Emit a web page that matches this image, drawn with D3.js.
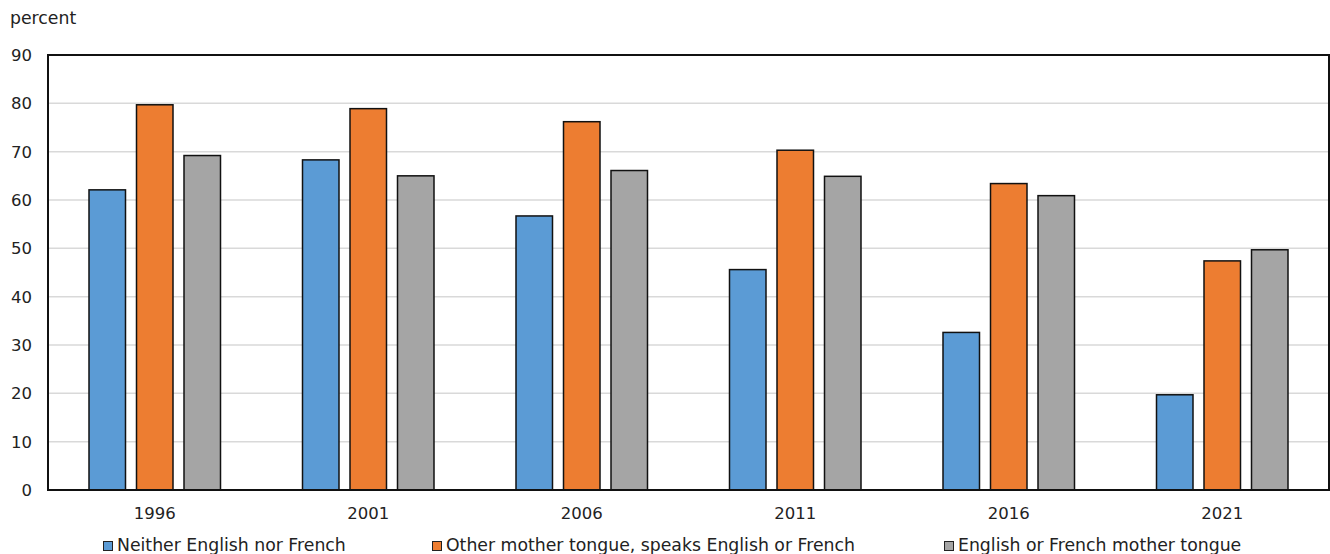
<!DOCTYPE html>
<html>
<head>
<meta charset="utf-8">
<script src="https://cdn.jsdelivr.net/npm/d3@7"></script>
<style>
  html, body { margin: 0; padding: 0; background: #fff; }
  svg text { font-family: "DejaVu Sans", Verdana, sans-serif; fill: #222; }
</style>
</head>
<body>
<svg id="chart" width="1330" height="554"></svg>
<script>
// Census years on the category axis
const years = ["1996", "2001", "2006", "2011", "2016", "2021"];

// Series names (legend order)
const seriesNames = [
  "Neither English nor French",
  "Other mother tongue, speaks English or French",
  "English or French mother tongue"
];

// Percent values per series, one per year
const neitherValues = [62.1, 68.3, 56.7, 45.6, 32.6, 19.7];
const otherValues   = [79.7, 78.9, 76.2, 70.3, 63.4, 47.4];
const officialValues = [69.2, 65.0, 66.1, 64.9, 60.9, 49.7];

// Y-axis ticks
const yTicks = [0, 10, 20, 30, 40, 50, 60, 70, 80, 90];

const seriesColors = ["#5B9BD5", "#ED7D31", "#A5A5A5"];
const seriesValues = [neitherValues, otherValues, officialValues];

const margin = { left: 48, right: 1329, top: 55, bottom: 490 };
const svg = d3.select("#chart");
const tickFont = 16.5;
const textFont = 17.3;

const x0 = d3.scaleBand().domain(years).range([margin.left, margin.right]).padding(0);
const x1 = d3.scaleBand().domain(d3.range(3))
  .range([x0.bandwidth() / 2 - 71.25, x0.bandwidth() / 2 + 71.25])
  .paddingInner(0.2).paddingOuter(0.1);
const y = d3.scaleLinear().domain([0, 90]).range([margin.bottom, margin.top]);

// Horizontal gridlines
svg.append("g").selectAll("line")
  .data(yTicks.filter(t => t > 0 && t < 90))
  .join("line")
  .attr("x1", margin.left).attr("x2", margin.right)
  .attr("y1", d => y(d)).attr("y2", d => y(d))
  .attr("stroke", "#d9d9d9").attr("stroke-width", 1.5);

// Y-axis tick labels
svg.append("g").selectAll("text")
  .data(yTicks)
  .join("text")
  .attr("x", 32).attr("y", d => y(d))
  .attr("dy", "0.36em")
  .attr("text-anchor", "end")
  .attr("font-size", tickFont)
  .text(d => d);

// Unit label
svg.append("text")
  .attr("x", 10).attr("y", 24)
  .attr("font-size", textFont)
  .text("percent");

// Bars
const groups = svg.append("g").selectAll("g")
  .data(years)
  .join("g")
  .attr("transform", d => `translate(${x0(d)},0)`);

groups.selectAll("rect")
  .data((d, i) => seriesValues.map((vals, s) => ({ s, v: vals[i] })))
  .join("rect")
  .attr("x", d => x1(d.s) + 0.75)
  .attr("width", x1.bandwidth() - 1.5)
  .attr("y", d => y(d.v))
  .attr("height", d => y(0) - y(d.v))
  .attr("fill", d => seriesColors[d.s])
  .attr("stroke", "#111")
  .attr("stroke-width", 1.5);

// Plot frame
svg.append("rect")
  .attr("x", margin.left).attr("y", margin.top)
  .attr("width", margin.right - margin.left)
  .attr("height", margin.bottom - margin.top)
  .attr("fill", "none")
  .attr("stroke", "#111").attr("stroke-width", 2);

// Year labels
svg.append("g").selectAll("text")
  .data(years)
  .join("text")
  .attr("x", d => x0(d) + x0.bandwidth() / 2)
  .attr("y", 519)
  .attr("text-anchor", "middle")
  .attr("font-size", tickFont)
  .text(d => d);

// Legend
const legendX = [103, 432, 944];
const legend = svg.append("g").selectAll("g")
  .data(seriesNames)
  .join("g")
  .attr("transform", (d, i) => `translate(${legendX[i]},551)`);

legend.append("rect")
  .attr("x", 0.5).attr("y", -9.5)
  .attr("width", 9).attr("height", 9)
  .attr("fill", (d, i) => seriesColors[i])
  .attr("stroke", "#222").attr("stroke-width", 1);

legend.append("text")
  .attr("x", 14).attr("y", 0)
  .attr("font-size", textFont)
  .text(d => d);
</script>
</body>
</html>
